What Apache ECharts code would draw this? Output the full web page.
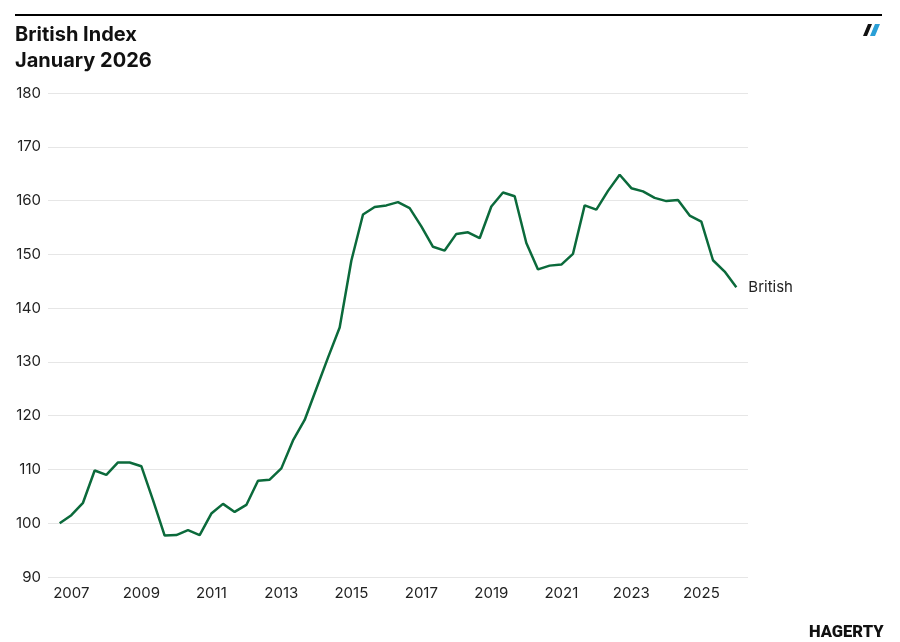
<!DOCTYPE html>
<html>
<head>
<meta charset="utf-8">
<script src="https://cdn.jsdelivr.net/npm/echarts@6/dist/echarts.min.js"></script>
<style>
html,body{margin:0;padding:0;background:#fff;}
#chart{width:900px;height:642px;}
</style>
</head>
<body>
<div id="chart"></div>
<script>
// Observation periods (every four months: Jan, May, Sep)
const periods = [
  '2006-09',
  '2007-01','2007-05','2007-09',
  '2008-01','2008-05','2008-09',
  '2009-01','2009-05','2009-09',
  '2010-01','2010-05','2010-09',
  '2011-01','2011-05','2011-09',
  '2012-01','2012-05','2012-09',
  '2013-01','2013-05','2013-09',
  '2014-01','2014-05','2014-09',
  '2015-01','2015-05','2015-09',
  '2016-01','2016-05','2016-09',
  '2017-01','2017-05','2017-09',
  '2018-01','2018-05','2018-09',
  '2019-01','2019-05','2019-09',
  '2020-01','2020-05','2020-09',
  '2021-01','2021-05','2021-09',
  '2022-01','2022-05','2022-09',
  '2023-01','2023-05','2023-09',
  '2024-01','2024-05','2024-09',
  '2025-01','2025-05','2025-09',
  '2026-01'
];
// British Index values
const britishValues = [
  100.0,
  101.5, 103.8, 109.8,
  109.0, 111.3, 111.3,
  110.6, 104.3, 97.7,
  97.8, 98.7, 97.8,
  101.8, 103.6, 102.1,
  103.4, 107.9, 108.1,
  110.2, 115.4, 119.2,
  125.0, 130.8, 136.4,
  148.8, 157.4, 158.8,
  159.1, 159.7, 158.6,
  155.2, 151.4, 150.7,
  153.8, 154.1, 153.0,
  158.9, 161.5, 160.8,
  152.1, 147.2, 147.9,
  148.1, 150.1, 159.1,
  158.3, 161.8, 164.8,
  162.3, 161.7, 160.5,
  159.9, 160.1, 157.2,
  156.1, 148.9, 146.8,
  143.9
];
const seriesName = 'British';
const yearLabels = [2007, 2009, 2011, 2013, 2015, 2017, 2019, 2021, 2023, 2025];
const yTicks = [90, 100, 110, 120, 130, 140, 150, 160, 170, 180];

const toYear = p => +p.slice(0, 4) + (+p.slice(5, 7) - 1) / 12;
const data = periods.map((p, i) => [toYear(p), britishValues[i]]);

const FONT = 'Inter, Roboto, "Noto Sans", sans-serif';
const chart = echarts.init(document.getElementById('chart'), null, {renderer: 'canvas'});
chart.setOption({
  backgroundColor: '#ffffff',
  animation: false,
  title: {
    text: 'British Index\nJanuary 2026',
    left: 15,
    top: 22,
    padding: 0,
    textStyle: {
      fontFamily: FONT,
      fontSize: 20,
      fontWeight: 'bold',
      lineHeight: 26,
      color: '#111111'
    }
  },
  grid: {left: 48, right: 152, top: 93, bottom: 65, containLabel: false},
  xAxis: {
    type: 'value',
    min: 2006 + 4 / 12,
    max: 2026 + 4 / 12,
    axisLine: {show: false},
    axisTick: {show: false},
    splitLine: {show: false},
    axisLabel: {
      customValues: yearLabels,
      formatter: v => String(Math.round(v)),
      fontFamily: FONT,
      fontSize: 15,
      color: '#222222',
      margin: 9
    }
  },
  yAxis: {
    type: 'value',
    min: yTicks[0],
    max: yTicks[yTicks.length - 1],
    interval: 10,
    axisLine: {show: false},
    axisTick: {show: false},
    splitLine: {lineStyle: {color: '#e6e6e6', width: 1}},
    axisLabel: {
      fontFamily: FONT,
      fontSize: 15,
      color: '#222222',
      margin: 7
    }
  },
  series: [{
    name: seriesName,
    type: 'line',
    data: data,
    symbol: 'none',
    lineStyle: {color: '#0b6a3b', width: 2.5},
    itemStyle: {color: '#0b6a3b'},
    endLabel: {
      show: true,
      formatter: seriesName,
      fontFamily: FONT,
      fontSize: 15,
      color: '#222222',
      distance: 12
    }
  }],
  graphic: [
    {type: 'rect', shape: {x: 15, y: 14, width: 867, height: 2}, style: {fill: '#000000'}},
    {type: 'polygon', shape: {points: [[868, 24], [872, 24], [867, 36], [863, 36]]}, style: {fill: '#111111'}},
    {type: 'polygon', shape: {points: [[875, 24], [880, 24], [875, 36], [870, 36]]}, style: {fill: '#2a9fd6'}},
    {type: 'text', x: 809, y: 624, style: {text: 'HAGERTY', font: '900 16.5px Roboto, "Liberation Sans", sans-serif', fill: '#111111', letterSpacing: -0.7}},
    {type: 'text', x: 879, y: 632, style: {text: '.', font: '700 7px Roboto, sans-serif', fill: '#111111'}}
  ]
});
</script>
</body>
</html>
